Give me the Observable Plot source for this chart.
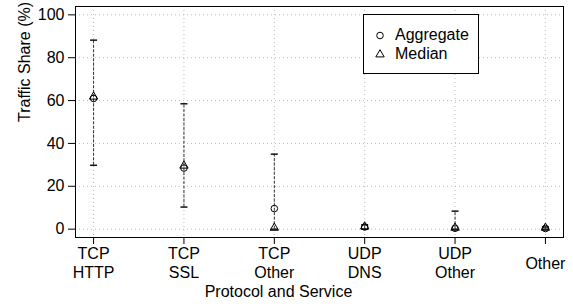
<!DOCTYPE html>
<html>
<head>
<meta charset="utf-8">
<script src="https://cdn.jsdelivr.net/npm/d3@7"></script>
<script src="https://cdn.jsdelivr.net/npm/@observablehq/plot@0.6"></script>
<style>
  html, body { margin: 0; padding: 0; background: white; }
  #wrap { position: relative; width: 573px; height: 307px; font-family: "Liberation Sans", Arial, Helvetica, sans-serif; }
  #legend { position: absolute; left: 363px; top: 14px; width: 114px; height: 58px; border: 1px solid #000; background: white; font-size: 16px; }
  #legend .row { position: absolute; left: 0; height: 20px; display: flex; align-items: center; }
  #legend svg { margin-left: 10px; margin-right: 9px; }
</style>
</head>
<body>
<div id="wrap"></div>
<script>
const categories = ["TCP\nHTTP", "TCP\nSSL", "TCP\nOther", "UDP\nDNS", "UDP\nOther", "Other"];
const aggregate = [61, 28.5, 9.6, 1, 0.4, 0.3];
const median = [61.8, 29.6, 0.6, 1.2, 0.6, 0.6];
const lowWhisker = [29.8, 10.3, 0, 0, 0, 0];
const highWhisker = [88.2, 58.5, 35, 2, 8.4, 1];
const yTicks = [0, 20, 40, 60, 80, 100];

const data = categories.map((c, i) => ({
  pos: i + 1, label: c, agg: aggregate[i], med: median[i], lo: lowWhisker[i], hi: highWhisker[i]
}));

const capSymbol = {
  draw(ctx, size) {
    const r = Math.sqrt(size / Math.PI);
    ctx.moveTo(-r, 0);
    ctx.lineTo(r, 0);
  }
};

const chart = Plot.plot({
  width: 573,
  height: 307,
  marginLeft: 75,
  marginRight: 10,
  marginTop: 6,
  marginBottom: 70,
  style: { fontFamily: "Liberation Sans, Arial, Helvetica, sans-serif", fontSize: "16px", background: "white", color: "black" },
  x: { domain: [0.8, 6.2] },
  y: { domain: [-3.9, 103.9] },
  marks: [
    Plot.gridY(yTicks, { stroke: "#bbb", strokeOpacity: 1, strokeDasharray: "1,3" }),
    Plot.gridX(data.map(d => d.pos), { stroke: "#bbb", strokeOpacity: 1, strokeDasharray: "1,3" }),
    Plot.axisY({ ticks: yTicks, tickSize: 7, tickPadding: 4, label: null, fontSize: 16 }),
    Plot.axisX({ ticks: data.map(d => d.pos), tickSize: 7, tickFormat: () => "", label: null }),
    Plot.text(data, { x: "pos", text: "label", frameAnchor: "bottom", dy: 25, lineAnchor: "middle", lineHeight: 1.2, fontSize: 16 }),
    Plot.text(["Traffic Share (%)"], { frameAnchor: "left", dx: -51, rotate: -90, fontSize: 16 }),
    Plot.text(["Protocol and Service"], { frameAnchor: "bottom", dy: 59, dx: -41, fontSize: 16 }),
    Plot.ruleX(data, { x: "pos", y1: "lo", y2: "hi", stroke: "#333", strokeDasharray: "3,1.5" }),
    Plot.dot(data, { x: "pos", y: "hi", symbol: capSymbol, r: 3.5, stroke: "#111", fill: "none" }),
    Plot.dot(data, { x: "pos", y: "lo", symbol: capSymbol, r: 3.5, stroke: "#111", fill: "none" }),
    Plot.dot(data, { x: "pos", y: "agg", symbol: "circle", r: 3.3, stroke: "black", fill: "none", strokeWidth: 1 }),
    Plot.dot(data, { x: "pos", y: "med", symbol: "triangle", r: 3.1, stroke: "black", fill: "none", strokeWidth: 1 }),
    Plot.frame({ stroke: "black" })
  ]
});

const wrap = document.getElementById("wrap");
wrap.appendChild(chart);

const legendItems = [
  { name: "Aggregate", symbol: "circle" },
  { name: "Median", symbol: "triangle" }
];
const legend = document.createElement("div");
legend.id = "legend";
legendItems.forEach((item, i) => {
  const row = document.createElement("div");
  row.className = "row";
  row.style.top = (10 + i * 19) + "px";
  const svg = d3.create("svg").attr("width", 12).attr("height", 12);
  const sym = item.symbol === "circle" ? d3.symbolCircle : d3.symbolTriangle;
  const size = item.symbol === "circle" ? Math.PI * 3.3 * 3.3 : Math.PI * 3.1 * 3.1;
  svg.append("path").attr("transform", "translate(6,6.5)")
    .attr("d", d3.symbol(sym, size)()).attr("fill", "none").attr("stroke", "black");
  row.appendChild(svg.node());
  const span = document.createElement("span");
  span.textContent = item.name;
  row.appendChild(span);
  legend.appendChild(row);
});
wrap.appendChild(legend);
</script>
</body>
</html>
